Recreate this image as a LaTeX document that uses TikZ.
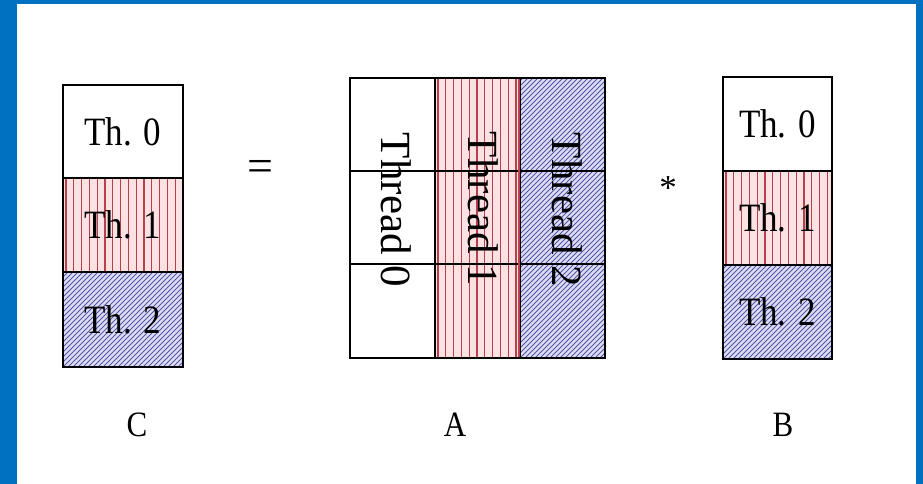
\documentclass[tikz,border=0pt]{standalone}
\usepackage{fontspec}
\setmainfont{Liberation Serif}
\definecolor{frameblue}{HTML}{0070C0}
\definecolor{pinkbg}{HTML}{FAE2E4}
\definecolor{redline}{HTML}{B8404A}
\definecolor{lavbg}{HTML}{DCDDF3}
\definecolor{blueline}{HTML}{5254A4}
\tikzset{
  cellbox/.style={draw=black, line width=1.3pt, inner sep=0pt, outer sep=0pt, minimum width=#1},
  redhatch/.style={fill=pinkbg, path picture={
      \foreach \i in {0,...,16}
        \draw[redline, line width=1.2pt] ([xshift=\i*7.8pt+3pt]path picture bounding box.south west) -- ([xshift=\i*7.8pt+3pt]path picture bounding box.north west);}},
  bluehatch/.style={fill=lavbg, path picture={
      \foreach \i in {-25,...,30}
        \draw[blueline, line width=0.8pt] ([xshift=\i*5pt]path picture bounding box.south west) -- ++(200pt,200pt);}},
  thtext/.style={font=\fontsize{35}{40}\selectfont, yscale=1.15, text=black},
  threadtext/.style={font=\fontsize{43}{48}\selectfont, rotate=-90, inner sep=0pt, text=black},
  lbl/.style={font=\fontsize{31}{36}\selectfont, yscale=1.15},
  op/.style={font=\fontsize{35}{40}\selectfont}
}
\begin{document}
\begin{tikzpicture}[x=1pt,y=-1pt]
\useasboundingbox (0,0) rectangle (923,484);
\fill[white] (0,0) rectangle (923,484);
% blue frame
\fill[frameblue] (0,0) rectangle (17,484);
\fill[frameblue] (0,0) rectangle (923,4);
\fill[frameblue] (916,0) rectangle (923,484);

% Matrix C
\node[cellbox=120pt, minimum height=93pt] (c0) at (123,131.5) {};
\node[cellbox=120pt, minimum height=94pt, redhatch] (c1) at (123,225) {};
\node[cellbox=120pt, minimum height=95pt, bluehatch] (c2) at (123,319.5) {};
\draw[line width=2pt] (c0.north west) rectangle (c2.south east);
\node[thtext] (ct0) at (c0.center) {Th. 0};
\node[thtext] (ct1) at (c1.center) {Th. 1};
\node[thtext] (ct2) at (c2.center) {Th. 2};

% equals
\node[font=\fontsize{46}{50}\selectfont] (eq) at (260,171) {=};

% Matrix A
\foreach \r/\y/\h in {0/124.5/93, 1/217.5/93, 2/311/94} {
  \node[cellbox=85pt, minimum height=\h pt] (a0\r) at (392.5,\y) {};
  \node[cellbox=85pt, minimum height=\h pt, redhatch] (a1\r) at (477.5,\y) {};
  \node[cellbox=85pt, minimum height=\h pt, bluehatch] (a2\r) at (562.5,\y) {};
}
\draw[redline, line width=2pt] ([xshift=-1.5pt]a10.north east) -- ([xshift=-1.5pt]a12.south east);
\draw[line width=2pt] (a00.north west) rectangle (a22.south east);
\node[threadtext] (at0) at (396,210) {Thread 0};
\node[threadtext] (at1) at (483,209) {Thread 1};
\node[threadtext] (at2) at (567,210) {Thread 2};

% star
\node[op] (star) at (668,188) {*};

% Matrix B
\node[cellbox=109pt, minimum height=94pt] (b0) at (777.5,124) {};
\node[cellbox=109pt, minimum height=94pt, redhatch] (b1) at (777.5,218) {};
\node[cellbox=109pt, minimum height=94pt, bluehatch] (b2) at (777.5,312) {};
\draw[line width=2pt] (b0.north west) rectangle (b2.south east);
\node[thtext] (bt0) at (b0.center) {Th. 0};
\node[thtext] (bt1) at (b1.center) {Th. 1};
\node[thtext] (bt2) at (b2.center) {Th. 2};

% labels
\node[lbl] (lc) at (137,425) {C};
\node[lbl] (la) at (455,425) {A};
\node[lbl] (lb) at (783,425) {B};
\end{tikzpicture}
\end{document}
